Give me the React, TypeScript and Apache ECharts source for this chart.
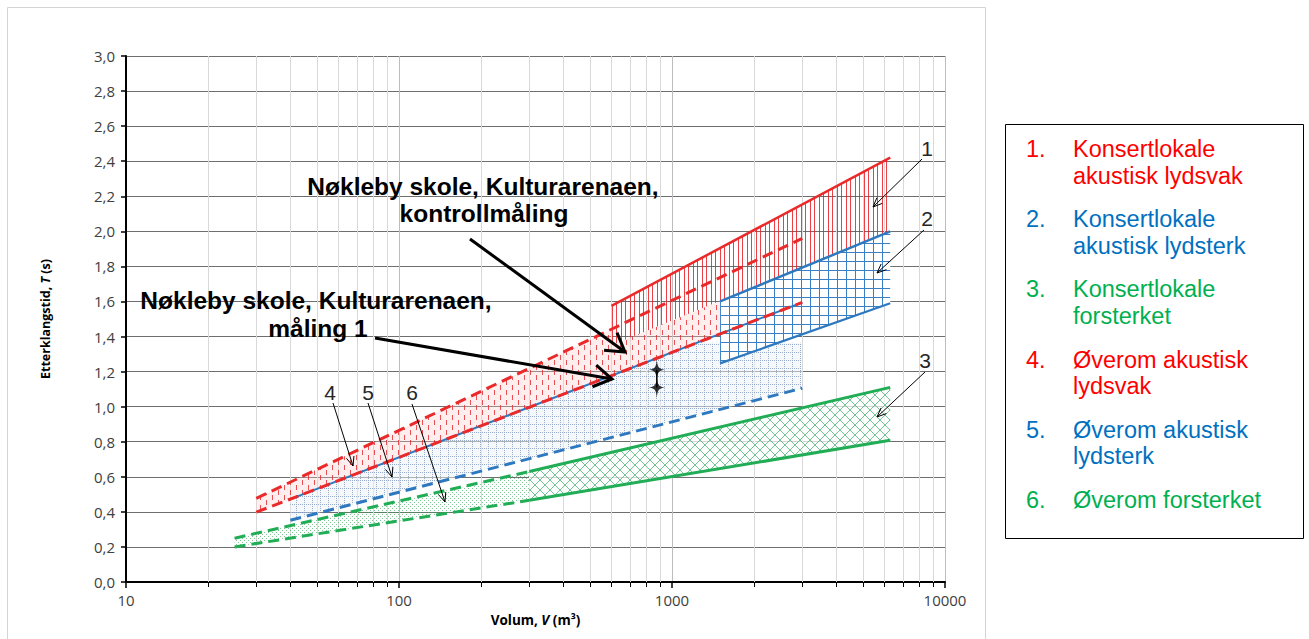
import React, { useEffect, useRef } from 'react';
import * as echarts from 'echarts';

// ---------- axes ----------
const xMin = 10;
const xMax = 10000;
const xMinorGrid = [20, 30, 40, 50, 60, 70, 80, 90, 200, 300, 400, 500, 600, 700, 800, 900, 2000, 3000, 4000, 5000, 6000, 7000, 8000, 9000];
const yMin = 0;
const yMax = 3;
const yStep = 0.2;

// ---------- boundary lines [V (m3), T (s)] ----------
const konsertSvakTop = [[600, 1.575], [6300, 2.42]];
const konsertSterkTop = [[1500, 1.6], [6300, 2.0]];
const konsertSterkBottom = [[1500, 1.247], [6300, 1.59]];
const forsterketTopDashed = [[25, 0.25], [300, 0.63]];
const forsterketTopSolid = [[300, 0.63], [6300, 1.11]];
const forsterketBottomDashed = [[25, 0.2], [300, 0.466]];
const forsterketBottomSolid = [[300, 0.466], [6300, 0.808]];
const overomSvakTop = [[30, 0.477], [3000, 1.96]];
const overomSvakBottom = [[30, 0.398], [3000, 1.595]];
const overomSterkTop = [[40, 0.473], [3000, 1.595]];
const overomSterkBottom = [[40, 0.352], [3000, 1.105]];

// ---------- hatched regions (polygons) ----------
const region1 = [[600, 1.575], [6300, 2.42], [6300, 2.0], [600, 1.35]];
const region2 = [[1500, 1.6], [6300, 2.0], [6300, 1.59], [1500, 1.247]];
const region3 = [[300, 0.63], [6300, 1.11], [6300, 0.808], [300, 0.466]];
const region4 = [[30, 0.477], [600, 1.442], [600, 1.35], [1500, 1.603], [1500, 1.415], [30, 0.398]];
const region5 = [[40, 0.473], [1227, 1.365], [3000, 1.365], [3000, 1.105], [40, 0.352]];
const region6 = [[25, 0.25], [300, 0.63], [300, 0.466], [25, 0.2]];

// ---------- measurements ----------
const measurements = [[880, 1.21], [880, 1.11]];

// ---------- legend ----------
const legendNums = ['1.', '2.', '3.', '4.', '5.', '6.'];
const legendTexts = [
  ['Konsertlokale', 'akustisk lydsvak'],
  ['Konsertlokale', 'akustisk lydsterk'],
  ['Konsertlokale', 'forsterket'],
  ['Øverom akustisk', 'lydsvak'],
  ['Øverom akustisk', 'lydsterk'],
  ['Øverom forsterket'],
];
const legendColors = ['#ff0000', '#0070c0', '#00b050', '#ff0000', '#0070c0', '#00b050'];

const RED = '#ea2a2a';
const BLUE = '#2e78bf';
const GREEN = '#21ad55';

function makePattern(w: number, h: number, draw: (ctx: CanvasRenderingContext2D) => void) {
  const c = document.createElement('canvas');
  c.width = w;
  c.height = h;
  const ctx = c.getContext('2d') as CanvasRenderingContext2D;
  draw(ctx);
  return { image: c.toDataURL(), repeat: 'repeat', imageWidth: w, imageHeight: h };
}

function arrow(x1: number, y1: number, x2: number, y2: number, w: number, head: number, ang: number) {
  const a = Math.atan2(y2 - y1, x2 - x1);
  const h1 = [x2 - head * Math.cos(a - ang), y2 - head * Math.sin(a - ang)];
  const h2 = [x2 - head * Math.cos(a + ang), y2 - head * Math.sin(a + ang)];
  return [
    { type: 'line', z: 30, silent: true, shape: { x1, y1, x2, y2 }, style: { stroke: '#000', lineWidth: w } },
    { type: 'polyline', z: 30, silent: true, shape: { points: [h1, [x2, y2], h2] }, style: { stroke: '#000', lineWidth: w, fill: null } },
  ];
}

function label(text: string, x: number, y: number, font: string, fill: string, align = 'center') {
  return {
    type: 'text', z: 31, silent: true, x, y,
    style: { text, font, fill, align, textAlign: align, verticalAlign: 'middle', textVerticalAlign: 'middle' },
  };
}

function polySeries(name: string, pts: number[][], fill: any, z: number) {
  return {
    type: 'custom', name, z, silent: true, clip: true,
    data: pts,
    encode: { x: 0, y: 1 },
    renderItem: (params: any, api: any) => {
      if (params.dataIndex !== 0) return null;
      const points = pts.map((p) => api.coord(p));
      return { type: 'polygon', shape: { points }, style: { fill, stroke: null } };
    },
  };
}

function lineSeries(data: number[][], color: string, width: number, type: any, z: number, dashOffset = 0) {
  return {
    type: 'line', data, showSymbol: false, symbol: 'none', silent: true, z,
    lineStyle: { color, width, type, dashOffset, cap: 'butt' },
  };
}

export default function App() {
  const ref = useRef<HTMLDivElement>(null);
  useEffect(() => {
    if (!ref.current) return;
    const chart = echarts.init(ref.current, null, { renderer: 'svg' });

    const p1 = makePattern(9, 4, (ctx) => {
      ctx.fillStyle = 'rgba(232,30,36,0.85)';
      ctx.fillRect(0, 0, 1, 4);
      ctx.fillRect(4, 0, 1, 4);
    });
    const p2 = makePattern(9, 9, (ctx) => {
      ctx.fillStyle = '#ffffff';
      ctx.fillRect(0, 0, 9, 9);
      ctx.fillStyle = '#3a7fc4';
      ctx.fillRect(0, 0, 9, 1);
      ctx.fillRect(0, 0, 1, 9);
    });
    const p3 = makePattern(10, 10, (ctx) => {
      ctx.fillStyle = 'rgba(255,255,255,0.7)';
      ctx.fillRect(0, 0, 10, 10);
      ctx.strokeStyle = 'rgba(70,175,110,0.75)';
      ctx.lineWidth = 1;
      ctx.beginPath();
      ctx.moveTo(0, 0); ctx.lineTo(10, 10);
      ctx.moveTo(0, 10); ctx.lineTo(10, 0);
      ctx.stroke();
    });
    const p4 = makePattern(12, 10, (ctx) => {
      ctx.fillStyle = 'rgba(255,200,200,0.3)';
      ctx.fillRect(0, 0, 12, 10);
      ctx.fillStyle = 'rgba(225,40,45,0.8)';
      ctx.fillRect(2, 0, 1, 5);
      ctx.fillRect(8, 5, 1, 5);
    });
    const p5 = makePattern(8, 8, (ctx) => {
      ctx.fillStyle = 'rgba(238,243,250,0.5)';
      ctx.fillRect(0, 0, 8, 8);
      ctx.fillStyle = 'rgba(100,130,180,0.65)';
      for (let i = 0; i < 8; i += 2) ctx.fillRect(i, 0, 1, 1);
      for (let i = 2; i < 8; i += 2) ctx.fillRect(0, i, 1, 1);
    });
    const p6 = makePattern(4, 4, (ctx) => {
      ctx.fillStyle = 'rgba(60,170,95,0.65)';
      ctx.fillRect(0, 0, 1, 1);
      ctx.fillRect(2, 2, 1, 1);
    });

    const graphics: any[] = [];
    graphics.push({
      type: 'rect', z: 0, silent: true,
      shape: { x: 7.5, y: 7.5, width: 978, height: 700 },
      style: { fill: null, stroke: '#d4d4d4', lineWidth: 1 },
    });
    // legend box
    graphics.push({
      type: 'rect', z: 20, silent: true,
      shape: { x: 1005.5, y: 124.5, width: 298, height: 414 },
      style: { fill: '#fff', stroke: '#000', lineWidth: 1 },
    });
    const legFont = '23.5px "Liberation Sans", Arial, sans-serif';
    legendTexts.forEach((lines, i) => {
      const y0 = 149 + 70.2 * i;
      graphics.push(label(legendNums[i], 1026, y0, legFont, legendColors[i], 'left'));
      lines.forEach((t, j) => {
        graphics.push(label(t, 1073, y0 + 26.6 * j, legFont, legendColors[i], 'left'));
      });
    });
    // annotations
    const bigFont = 'bold 24.5px "Liberation Sans", Arial, sans-serif';
    graphics.push(label('Nøkleby skole, Kulturarenaen,', 483, 186, bigFont, '#000'));
    graphics.push(label('kontrollmåling', 484, 213, bigFont, '#000'));
    graphics.push(label('Nøkleby skole, Kulturarenaen,', 316, 300, bigFont, '#000'));
    graphics.push(label('måling 1', 318, 328, bigFont, '#000'));
    graphics.push(...arrow(470, 239, 625, 352, 3, 21, 0.55));
    graphics.push(...arrow(375, 338, 612, 379, 3, 21, 0.55));
    const numFont = '21px "Liberation Sans", Arial, sans-serif';
    graphics.push(label('1', 927, 148, numFont, '#262626'));
    graphics.push(label('2', 927, 218, numFont, '#262626'));
    graphics.push(label('3', 925, 360, numFont, '#262626'));
    graphics.push(label('4', 330, 392, numFont, '#262626'));
    graphics.push(label('5', 368, 392, numFont, '#262626'));
    graphics.push(label('6', 412, 392, numFont, '#262626'));
    graphics.push(...arrow(922, 159, 873, 207, 1, 10, 0.4));
    graphics.push(...arrow(924, 230, 877, 273, 1, 10, 0.4));
    graphics.push(...arrow(925, 372, 877, 417, 1, 10, 0.4));
    graphics.push(...arrow(333, 403, 353, 466, 1, 10, 0.4));
    graphics.push(...arrow(368, 403, 392, 477, 1, 10, 0.4));
    graphics.push(...arrow(412, 404, 445, 502, 1, 10, 0.4));

    const axisFont = '"Open Sans", "Liberation Sans", sans-serif';

    const option: any = {
      animation: false,
      backgroundColor: '#ffffff',
      grid: { left: 126, right: 364, top: 56, bottom: 57, containLabel: false },
      xAxis: {
        type: 'log', logBase: 10, min: xMin, max: xMax,
        name: 'Volum, {i|V} (m³)', nameLocation: 'middle', nameGap: 31,
        nameTextStyle: {
          color: '#000', fontWeight: 'bold', fontSize: 13.5, fontFamily: axisFont,
          rich: { i: { fontStyle: 'italic', fontWeight: 'bold', fontSize: 13.5, fontFamily: axisFont, color: '#000' } },
        },
        axisLine: { show: true, onZero: false, lineStyle: { color: '#000', width: 2 } },
        axisTick: { show: true, length: 6, lineStyle: { color: '#000', width: 1.5 } },
        axisLabel: { color: '#404040', fontSize: 15, fontFamily: axisFont, margin: 10, formatter: (v: number) => String(Math.round(v)) },
        splitLine: { show: true, lineStyle: { color: '#bdbdbd', width: 1 } },
        minorTick: { show: false },
      },
      yAxis: {
        type: 'value', min: yMin, max: yMax, interval: yStep,
        name: 'Etterklangstid, {i|T} (s)', nameLocation: 'middle', nameGap: 74, nameRotate: 90,
        nameTextStyle: {
          color: '#000', fontWeight: 'bold', fontSize: 12.5, fontFamily: axisFont,
          rich: { i: { fontStyle: 'italic', fontWeight: 'bold', fontSize: 12.5, fontFamily: axisFont, color: '#000' } },
        },
        axisLine: { show: true, onZero: false, lineStyle: { color: '#000', width: 2 } },
        axisTick: { show: true, length: 5, lineStyle: { color: '#000', width: 1.5 } },
        axisLabel: { color: '#404040', fontSize: 15, fontFamily: axisFont, margin: 11, formatter: (v: number) => v.toFixed(1).replace('.', ',') },
        splitLine: { show: true, lineStyle: { color: '#6e6e6e', width: 1 } },
      },
      series: [
        {
          type: 'custom', name: 'minorGrid', z: 1, silent: true, clip: false,
          data: xMinorGrid.map((v) => [v, yMin]),
          encode: { x: 0, y: 1 },
          renderItem: (params: any, api: any) => {
            const v = api.value(0);
            const b = api.coord([v, yMin]);
            const t = api.coord([v, yMax]);
            const x = Math.round(b[0]) + 0.5;
            return {
              type: 'group',
              children: [
                { type: 'line', shape: { x1: x, y1: t[1], x2: x, y2: b[1] }, style: { stroke: '#d9d9d9', lineWidth: 1 } },
                { type: 'line', shape: { x1: x, y1: b[1], x2: x, y2: b[1] + 5 }, style: { stroke: '#000', lineWidth: 1 } },
              ],
            };
          },
        },
        polySeries('5. Øverom akustisk lydsterk', region5, p5, 2),
        polySeries('6. Øverom forsterket', region6, p6, 2),
        polySeries('4. Øverom akustisk lydsvak', region4, p4, 3),
        polySeries('3. Konsertlokale forsterket', region3, p3, 3),
        polySeries('1. Konsertlokale akustisk lydsvak', region1, p1, 4),
        polySeries('2. Konsertlokale akustisk lydsterk', region2, p2, 4),
        lineSeries(konsertSvakTop, RED, 2.5, 'solid', 6),
        lineSeries(konsertSterkTop, BLUE, 2.5, 'solid', 6),
        lineSeries(konsertSterkBottom, BLUE, 2.2, 'solid', 6),
        lineSeries(forsterketTopDashed, GREEN, 3, [11, 6], 6),
        lineSeries(forsterketBottomDashed, GREEN, 3, [11, 6], 6),
        lineSeries(forsterketTopSolid, GREEN, 3, 'solid', 6),
        lineSeries(forsterketBottomSolid, GREEN, 3, 'solid', 6),
        lineSeries(overomSvakTop, RED, 3, [11, 6], 7),
        lineSeries(overomSterkTop, BLUE, 2, 'solid', 6),
        lineSeries(overomSvakBottom, RED, 3, [11, 6], 7),
        lineSeries(overomSterkBottom, BLUE, 3, [11, 6], 6),
        lineSeries(measurements, '#000', 1.5, 'solid', 8),
        {
          type: 'scatter', name: 'Målinger', data: measurements, z: 9, silent: true,
          symbol: 'path://M0,-10 C0.6,-2 2,-0.6 8,0 C2,0.6 0.6,2 0,10 C-0.6,2 -2,0.6 -8,0 C-2,-0.6 -0.6,-2 0,-10 Z',
          symbolSize: [17, 21],
          itemStyle: { color: '#000' },
        },
      ],
      graphic: graphics,
    };
    chart.setOption(option);
    return () => chart.dispose();
  }, []);
  return <div ref={ref} style={{ position: 'fixed', left: 0, top: 0, width: 1309, height: 639, background: '#fff' }} />;
}
